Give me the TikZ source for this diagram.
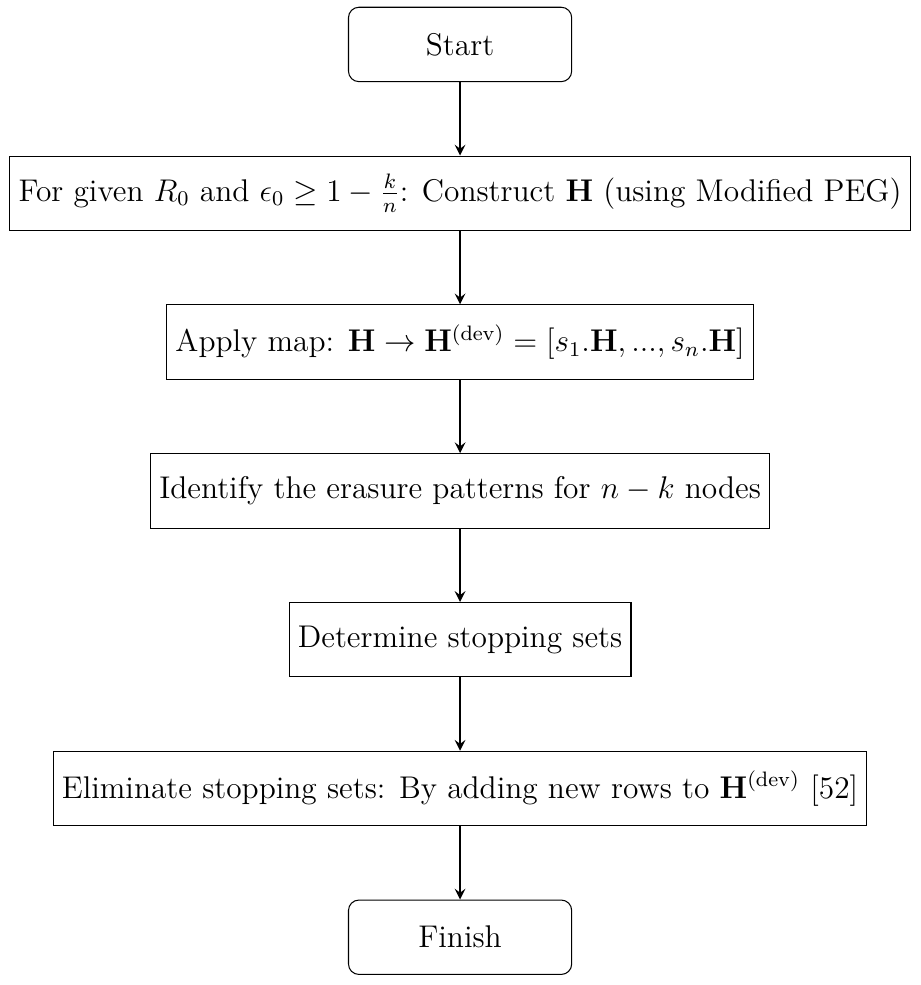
\documentclass[tikz,border=0pt]{standalone}
\usepackage{amsmath}
\begin{document}
\begin{tikzpicture}[
  font=\large,
  node distance=2cm,
  startstop/.style={rectangle, rounded corners, minimum width=3cm, minimum height=1cm, text centered, draw=black},
  process/.style={rectangle, minimum width=3cm, minimum height=1cm, text centered, draw=black},
  flow/.style={thick, ->, >=stealth}
]
% page frame
\useasboundingbox (-175.95pt,17pt) rectangle (175.95pt,-359.7pt);

\node (start) [startstop] {Start};
\node (construct) [process, below of=start] {For given $R_0$ and $\epsilon_0 \geq 1-\frac{k}{n}$: Construct $\mathbf{H}$ (using Modified PEG)};
\node (map) [process, below of=construct] {Apply map: $\mathbf{H} \rightarrow \mathbf{H}^{(\mathrm{dev})} = [s_1.\mathbf{H}, ..., s_n.\mathbf{H}]$};
\node (erasure) [process, below of=map] {Identify the erasure patterns for $n-k$ nodes};
\node (stopping) [process, below of=erasure] {Determine stopping sets};
\node (eliminate) [process, below of=stopping] {Eliminate stopping sets: By adding new rows to $\mathbf{H}^{(\mathrm{dev})}$ [52]};
\node (finish) [startstop, below of=eliminate] {Finish};

\draw [flow] (start) -- (construct);
\draw [flow] (construct) -- (map);
\draw [flow] (map) -- (erasure);
\draw [flow] (erasure) -- (stopping);
\draw [flow] (stopping) -- (eliminate);
\draw [flow] (eliminate) -- (finish);
\end{tikzpicture}
\end{document}
